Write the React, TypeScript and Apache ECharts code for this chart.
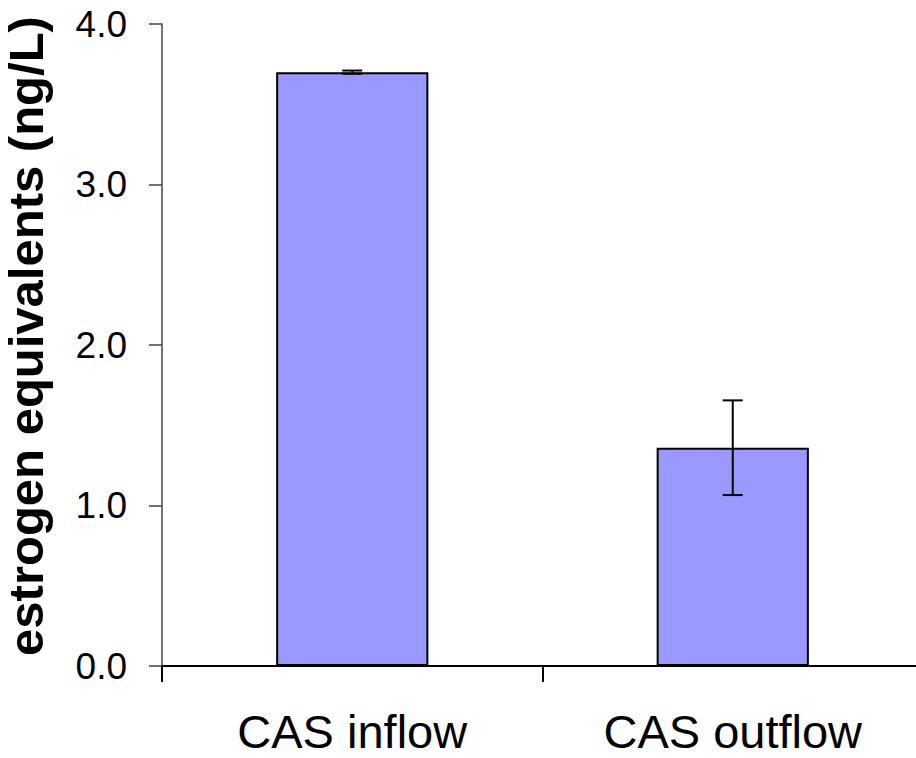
import React, { useEffect, useRef } from "react";
import * as echarts from "echarts";

const categories = ["CAS inflow", "CAS outflow"];
const values = [3.7, 1.36];
const errors = [0.01, 0.295];
const yTicks = [0, 1, 2, 3, 4];
const yAxisTitle = "estrogen equivalents (ng/L)";

const FONT = '"Liberation Sans", Arial, sans-serif';

export default function App() {
  const ref = useRef<HTMLDivElement>(null);
  useEffect(() => {
    if (!ref.current) return;
    const chart = echarts.init(ref.current, null, { renderer: "svg" });
    const errData = values.map((v, i) => [i, v + errors[i], v - errors[i]]);
    chart.setOption({
      animation: false,
      backgroundColor: "#ffffff",
      grid: {
        left: 162,
        top: 24,
        width: 761,
        height: 642,
        containLabel: false,
        outerBoundsMode: "none",
      },
      xAxis: {
        type: "category",
        data: categories,
        axisLine: { show: true, lineStyle: { color: "#000", width: 2 } },
        axisTick: { show: true, alignWithLabel: false, length: 16, lineStyle: { color: "#000", width: 2 } },
        axisLabel: { color: "#000", fontSize: 47, fontFamily: FONT, margin: 42 },
        splitLine: { show: false },
      },
      yAxis: {
        type: "value",
        min: yTicks[0],
        max: yTicks[yTicks.length - 1],
        interval: 1,
        name: yAxisTitle,
        nameLocation: "middle",
        nameRotate: 90,
        nameGap: 112,
        nameTextStyle: {
          color: "#000",
          fontSize: 49,
          lineHeight: 49,
          fontWeight: "bold",
          fontFamily: FONT,
          padding: [0, 0, 0, 18],
        },
        axisLine: { show: true, lineStyle: { color: "#444", width: 1.5 } },
        axisTick: { show: true, inside: false, length: 13, lineStyle: { color: "#444", width: 1.5 } },
        axisLabel: {
          color: "#000",
          fontSize: 37,
          fontFamily: FONT,
          margin: 35,
          formatter: (v: number) => v.toFixed(1),
        },
        splitLine: { show: false },
      },
      series: [
        {
          type: "bar",
          data: values,
          barWidth: "40%",
          itemStyle: { color: "#9999FF", borderColor: "#000", borderWidth: 2 },
        },
        {
          type: "custom",
          data: errData,
          z: 10,
          renderItem: (params: any, api: any) => {
            const x = api.value(0);
            const hi = api.coord([x, api.value(1)]);
            const lo = api.coord([x, api.value(2)]);
            const hw = 10;
            const style = { stroke: "#000", lineWidth: 2 };
            return {
              type: "group",
              children: [
                { type: "line", shape: { x1: hi[0], y1: hi[1], x2: lo[0], y2: lo[1] }, style },
                { type: "line", shape: { x1: hi[0] - hw, y1: hi[1], x2: hi[0] + hw, y2: hi[1] }, style },
                { type: "line", shape: { x1: lo[0] - hw, y1: lo[1], x2: lo[0] + hw, y2: lo[1] }, style },
              ],
            };
          },
        },
      ],
    });
    return () => chart.dispose();
  }, []);
  return (
    <div
      ref={ref}
      style={{ position: "fixed", left: 0, top: 0, width: 916, height: 758, background: "#fff" }}
    />
  );
}
